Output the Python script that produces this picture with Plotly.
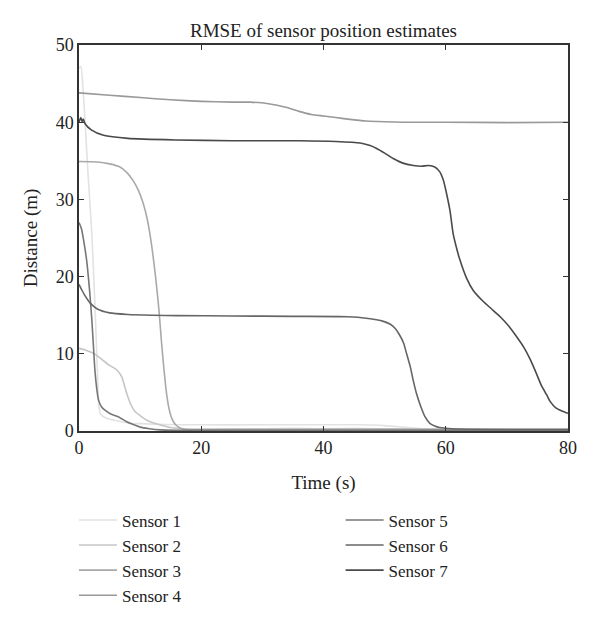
import plotly.graph_objects as go

# ---- data ----
s1_t = [0, 0.3, 0.6, 1, 1.5, 2.1, 2.6, 3, 3.2, 3.5, 4.5, 6, 8.3, 10, 14, 20, 30, 40, 46, 50, 53, 56, 60, 80]
s1_v = [47.0, 47.2, 45.0, 40.0, 33.0, 25.5, 16.5, 8.0, 3.8, 2.2, 1.65, 1.35, 1.0, 0.95, 0.85, 0.8, 0.8, 0.8, 0.8, 0.7, 0.5, 0.3, 0.2, 0.15]

s2_t = [0, 1, 2, 2.9, 4, 5, 6.2, 7, 7.4, 7.8, 8.5, 9.2, 10, 11.1, 12, 13.2, 14.9, 17, 20, 30, 40, 50, 60, 80]
s2_v = [10.7, 10.5, 10.2, 9.8, 9.1, 8.5, 7.9, 7.0, 6.0, 4.9, 3.4, 2.5, 2.0, 1.4, 1.1, 0.8, 0.45, 0.3, 0.25, 0.3, 0.3, 0.3, 0.25, 0.25]

s3_t = [0, 3, 5, 6.7, 7.8, 8.8, 9.7, 10.5, 11.2, 11.8, 12.3, 12.7, 13.1, 13.5, 13.9, 14.3, 14.7, 15.2, 15.8, 16.5, 17.5, 20, 30, 50, 80]
s3_v = [34.9, 34.85, 34.6, 34.2, 33.5, 32.5, 31.2, 29.5, 27.3, 24.5, 21.5, 18.7, 15.5, 11.5, 8.0, 5.0, 3.0, 1.6, 0.8, 0.4, 0.2, 0.15, 0.15, 0.2, 0.2]

s4_t = [0, 5, 10, 15, 20, 25, 28, 31, 34, 36, 38, 40, 42, 44, 47, 50, 53, 60, 70, 80]
s4_v = [43.8, 43.5, 43.2, 42.9, 42.7, 42.6, 42.6, 42.4, 41.9, 41.4, 41.0, 40.8, 40.6, 40.4, 40.15, 40.05, 40.0, 40.0, 39.95, 40.0]

s5_t = [0, 0.4, 0.8, 1.25, 1.7, 2.1, 2.4, 2.6, 2.9, 3.2, 3.7, 4.25, 5.2, 6.4, 7.8, 9, 10, 11.5, 13.2, 16, 20, 40, 80]
s5_v = [27, 26.2, 24.5, 22.1, 18.5, 14.4, 10.5, 7.9, 5.5, 4.0, 3.1, 2.7, 2.2, 1.85, 1.2, 0.8, 0.5, 0.3, 0.15, 0.1, 0.1, 0.1, 0.1]

s6_t = [0, 0.5, 1, 1.8, 3, 5, 8, 12, 16, 25, 35, 44, 47, 49.8, 51, 51.7, 52.4, 53.1, 53.6, 54.2, 54.7, 55.2, 55.9, 56.6, 57.4, 58.2, 59, 60, 62, 70, 80]
s6_v = [19.0, 18.2, 17.5, 16.6, 15.8, 15.3, 15.1, 15.0, 14.95, 14.9, 14.85, 14.8, 14.6, 14.2, 13.8, 13.3, 12.5, 11.4, 10.0, 8.3, 6.5, 4.9, 3.2, 1.85, 1.0, 0.65, 0.45, 0.35, 0.25, 0.2, 0.2]

s7_t = [0, 0.3, 0.5, 0.7, 1, 2, 4, 8, 16, 25, 36, 42, 46, 47.5, 48.7, 50, 51.4, 53, 54.7, 56, 57.2, 58.2, 59, 59.6, 60.2, 60.7, 61.2, 61.8, 62.3, 63.4, 64.5, 66.1, 67.5, 68.9, 70.3, 71.6, 72.8, 73.8, 74.8, 75.7, 76.5, 77.1, 78, 79, 80]
s7_v = [40.0, 40.6, 40.1, 40.4, 39.8, 39.0, 38.3, 37.9, 37.7, 37.6, 37.6, 37.5, 37.3, 37.0, 36.6, 36.0, 35.3, 34.7, 34.4, 34.3, 34.4, 34.2, 33.6, 32.5, 30.5, 28.5, 25.6, 23.6, 22.2, 19.8, 18.2, 16.8, 15.8, 14.8, 13.6, 12.2, 10.8, 9.3, 7.5, 5.8, 4.7, 3.8, 3.0, 2.6, 2.3]

names = ["Sensor 1", "Sensor 2", "Sensor 3", "Sensor 4", "Sensor 5", "Sensor 6", "Sensor 7"]
series_t = [s1_t, s2_t, s3_t, s4_t, s5_t, s6_t, s7_t]
series_v = [s1_v, s2_v, s3_v, s4_v, s5_v, s6_v, s7_v]
colors = ["#e2e2e2", "#c6c6c6", "#a9a9a9", "#999999", "#777777", "#666666", "#4a4a4a"]
legend_ids = ["legend", "legend", "legend", "legend", "legend2", "legend2", "legend2"]

FONT = "Liberation Serif, Times New Roman, serif"

fig = go.Figure()
for n, t, v, c, lg in zip(names, series_t, series_v, colors, legend_ids):
    fig.add_trace(go.Scatter(x=t, y=v, mode="lines", name=n,
                             line=dict(color=c, width=1.6, shape="spline", smoothing=0.6),
                             legend=lg))

axis_common = dict(showline=True, linecolor="#333333", linewidth=1.5, mirror="ticks",
                   ticks="inside", ticklen=5, tickcolor="#333333", tickwidth=1.2,
                   showgrid=False, zeroline=False,
                   tickfont=dict(family=FONT, size=18, color="#222222"))

fig.update_layout(
    width=600, height=622,
    paper_bgcolor="white", plot_bgcolor="white",
    margin=dict(l=79, r=32, t=45, b=191, autoexpand=False),
    title=dict(text="RMSE of sensor position estimates", x=0.5, xref="paper",
               y=0.952, yanchor="middle",
               font=dict(family=FONT, size=19, color="#222222")),
    xaxis=dict(range=[0, 80], dtick=20, title=dict(text="Time (s)", standoff=18,
               font=dict(family=FONT, size=19, color="#222222")), **axis_common),
    yaxis=dict(range=[0, 50], dtick=10, title=dict(text="Distance (m)", standoff=13,
               font=dict(family=FONT, size=19, color="#222222")), **axis_common),
    legend=dict(x=-0.0103, y=-0.185, xanchor="left", yanchor="top", orientation="v",
                font=dict(family=FONT, size=17, color="#222222"), itemwidth=38,
                bgcolor="rgba(0,0,0,0)"),
    legend2=dict(x=0.535, y=-0.185, xanchor="left", yanchor="top", orientation="v",
                 font=dict(family=FONT, size=17, color="#222222"), itemwidth=38,
                 bgcolor="rgba(0,0,0,0)"),
)

fig.write_html("out.html", config={"displayModeBar": False},
               post_script="document.body.style.margin='0';")
